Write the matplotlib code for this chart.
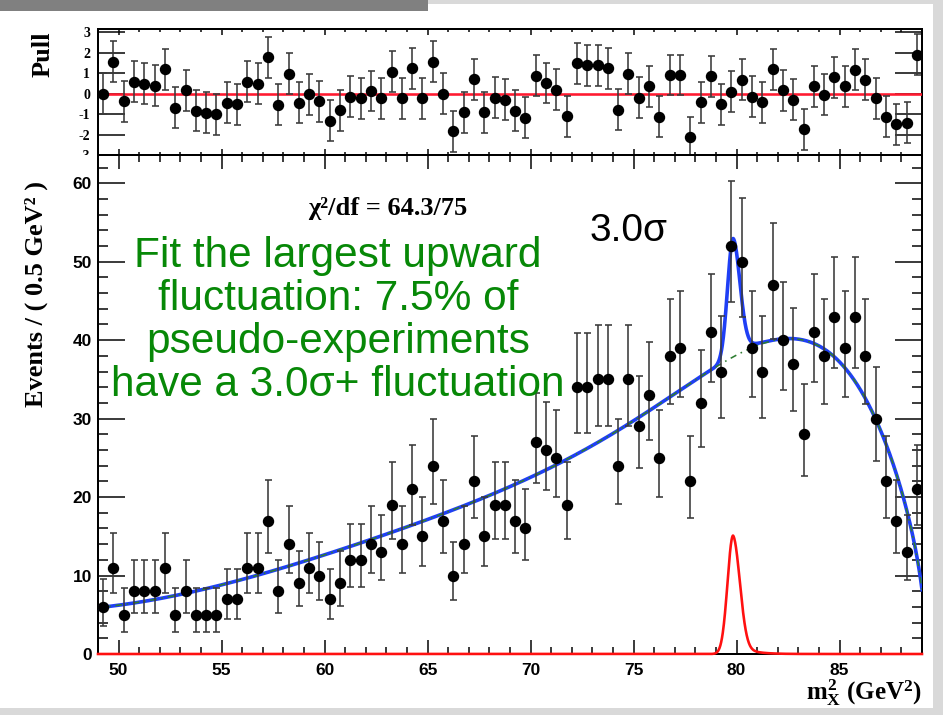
import math
import numpy as np
import matplotlib
matplotlib.use("Agg")
import matplotlib.pyplot as plt
from matplotlib.patches import Rectangle
from matplotlib.ticker import MultipleLocator, FixedLocator

plt.rcParams["mathtext.fontset"] = "custom"
plt.rcParams["mathtext.rm"] = "Liberation Serif:bold"
plt.rcParams["mathtext.it"] = "Liberation Serif:bold"
plt.rcParams["mathtext.bf"] = "Liberation Serif:bold"
plt.rcParams["axes.unicode_minus"] = False

# ---- histogram: m_X^2 in 0.5 GeV^2 bins from 49 to 89 ----
bin_edges = np.arange(49.0, 89.01, 0.5)
bin_centers = 0.5 * (bin_edges[:-1] + bin_edges[1:])
counts = [6, 11, 5, 8, 8, 8, 11, 5, 8, 5,
          5, 5, 7, 7, 11, 11, 17, 8, 14, 9,
          11, 10, 7, 9, 12, 12, 14, 13, 19, 14,
          21, 15, 24, 17, 10, 14, 22, 15, 19, 19,
          17, 16, 27, 26, 25, 19, 34, 34, 35, 35,
          24, 35, 29, 33, 25, 38, 39, 22, 32, 41,
          36, 52, 50, 39, 36, 47, 40, 37, 28, 41,
          38, 43, 39, 43, 38, 30, 22, 17, 13, 21]

# ---- pulls (data - fit) / error for each bin ----
pulls = [0.0, 1.55, -0.37, 0.58, 0.49, 0.39, 1.2, -0.7, 0.16, -0.84,
         -0.94, -1.0, -0.45, -0.52, 0.58, 0.49, 1.78, -0.55, 0.97, -0.45,
         -0.03, -0.37, -1.33, -0.81, -0.16, -0.23, 0.13, -0.23, 1.07, -0.23,
         1.23, -0.23, 1.55, 0.0, -1.83, -0.9, 0.71, -0.9, -0.21, -0.29,
         -0.83, -1.18, 0.87, 0.52, 0.19, -1.1, 1.49, 1.39, 1.39, 1.23,
         -0.78, 0.97, -0.21, 0.36, -1.13, 0.91, 0.91, -2.12, -0.42, 0.84,
         -0.52, 0.1, 0.68, -0.16, -0.42, 1.2, 0.16, -0.29, -1.75, 0.36,
         -0.05, 0.81, 0.36, 1.17, 0.68, -0.23, -1.13, -1.5, -1.42, 1.91]

# ---- background fit: sampled values of the fitted background shape ----
bkg_knot_x = [49.1, 53.8, 58.6, 63.7, 67.5, 69.2, 72.0, 74.0, 76.0, 78.7,
              79.4, 80.8, 82.2, 83.8, 85.4, 86.8, 87.4, 88.0, 88.7, 89.0]
bkg_knot_y = [5.8, 8.5, 11.1, 15.8, 19.4, 21.5, 25.7, 28.7, 31.7, 35.8,
              36.7, 38.7, 39.6, 39.4, 36.4, 30.5, 26.7, 20.3, 12.7, 7.8]
bkg_endpoint = 89.2

# ---- signal peak parameters ----
sig_mean = 79.83
sig_amp = 15.1
sig_sigma_left = 0.27
sig_sigma_right = 0.33
sig_tail_frac = 0.12
sig_tail_len = 0.6

pull_ticks = [-3, -2, -1, 0, 1, 2, 3]
chi2_text = "\u03c7\u00b2/df = 64.3/75"
note_lines = ["Fit the largest upward", "fluctuation: 7.5% of",
              "pseudo-experiments", "have a 3.0\u03c3+ fluctuation"]
signif_text = "3.0\u03c3"


def poisson_interval(n, cl=0.6827):
    alpha = 0.5 * (1.0 - cl)

    def cdf(k, mu):
        if k < 0:
            return 0.0
        if mu <= 0:
            return 1.0
        return sum(math.exp(-mu + j * math.log(mu) - math.lgamma(j + 1)) for j in range(k + 1))

    def solve(func, target, hi):
        lo = 0.0
        for _ in range(80):
            mid = 0.5 * (lo + hi)
            if func(mid) > target:
                lo = mid
            else:
                hi = mid
        return 0.5 * (lo + hi)

    up = solve(lambda m: cdf(n, m), alpha, n + 40.0)
    low = 0.0 if n == 0 else solve(lambda m: cdf(n - 1, m), 1.0 - alpha, n + 40.0)
    return n - low, up - n


err = np.array([poisson_interval(n) for n in counts]).T

# background model: exp(polynomial) times a threshold factor sqrt(x0 - x)
kx = np.array(bkg_knot_x)
ky = np.array(bkg_knot_y)
kt = (kx - 69.0) / 20.0
log_shape = np.log(ky / np.sqrt(bkg_endpoint - kx))
bkg_poly = np.polyfit(kt, log_shape, 5, w=np.sqrt(ky))


def background(x):
    t = (x - 69.0) / 20.0
    return np.exp(np.polyval(bkg_poly, t)) * np.sqrt(np.clip(bkg_endpoint - x, 0, None))


def signal(x):
    d = x - sig_mean
    left = np.exp(-0.5 * (d / sig_sigma_left) ** 2)
    right = (1 - sig_tail_frac) * np.exp(-0.5 * (d / sig_sigma_right) ** 2) + \
        sig_tail_frac * np.exp(-np.clip(d, 0, None) / sig_tail_len)
    return sig_amp * np.where(d < 0, left, right)


xs = np.linspace(49.0, 89.0, 3000)
bkg_curve = background(xs)
sig_curve = signal(xs)
tot_curve = bkg_curve + sig_curve

# ---- figure layout (pixel based) ----
W, H = 943, 715
fig = plt.figure(figsize=(W / 100, H / 100), dpi=100)
fig.patch.set_facecolor("#d9d9d9")


def px_rect(x0, y0, x1, y1):
    return [x0 / W, 1 - y1 / H, (x1 - x0) / W, (y1 - y0) / H]


fig.add_artist(Rectangle((0, 1 - 708 / H), 933 / W, 704 / H, transform=fig.transFigure,
                         facecolor="white", edgecolor="none", zorder=-2))
fig.add_artist(Rectangle((0, 1 - 11 / H), 428 / W, 11 / H, transform=fig.transFigure,
                         facecolor="#808080", edgecolor="none", zorder=-1))

ax_pull = fig.add_axes(px_rect(98, 29, 922, 155))
ax_main = fig.add_axes(px_rect(98, 155, 922, 654))
ax_pull.set_zorder(0)
ax_main.set_zorder(2)
# hide the lower part of the pull panel's "-3" label, as the lower pad does
fig.add_artist(Rectangle((0, 1 - 654 / H), 98 / W, (654 - 155) / H, transform=fig.transFigure,
                         facecolor="white", edgecolor="none", zorder=1))

sans_bold = dict(family="Liberation Sans", weight="bold")
serif_bold = dict(family="Liberation Serif", weight="bold")
pt = 72 / 100  # points per pixel

# ---- main panel ----
ax = ax_main
ax.set_xlim(49, 89)
ax.set_ylim(0, 63.6)
ax.plot(xs, sig_curve, color="#ff1010", lw=2.6 * pt, zorder=4, clip_on=False)
ax.plot(xs, tot_curve, color="#1f3ff5", lw=3.6 * pt, zorder=3)
ax.plot(xs, bkg_curve, color="#2f7d32", lw=1.6 * pt, ls=(0, (4, 3, 1, 3)), zorder=3.5)
ax.errorbar(bin_centers, counts, yerr=err, fmt="o", color="black", ms=10 * pt,
            ecolor="#3a3a3a", elinewidth=1.6 * pt, capsize=3.5 * pt, capthick=1.6 * pt, zorder=5)

ax.xaxis.set_major_locator(MultipleLocator(5))
ax.xaxis.set_minor_locator(MultipleLocator(1))
ax.yaxis.set_major_locator(MultipleLocator(10))
ax.yaxis.set_minor_locator(MultipleLocator(2))
ax.tick_params(axis="y", which="major", direction="in", length=27 * pt, width=1.5 * pt,
               left=True, right=True, pad=6 * pt)
ax.tick_params(axis="y", which="minor", direction="in", length=10 * pt, width=1.5 * pt,
               left=True, right=True)
ax.tick_params(axis="x", which="major", direction="in", length=14 * pt, width=1.5 * pt,
               top=True, bottom=True, pad=9 * pt)
ax.tick_params(axis="x", which="minor", direction="in", length=7 * pt, width=1.5 * pt,
               top=True, bottom=True)
for lab in ax.get_xticklabels() + ax.get_yticklabels():
    lab.set_fontproperties(dict(sans_bold, size=12.5))
for sp in ax.spines.values():
    sp.set_linewidth(2 * pt)

# ---- pull panel ----
ap = ax_pull
ap.set_xlim(49, 89)
ap.set_ylim(-3.0, 3.16)
ap.axhline(0, color="#ff1a30", lw=2.6 * pt, zorder=3)
ap.errorbar(bin_centers, pulls, yerr=1.0, fmt="o", color="black", ms=10 * pt,
            ecolor="#3a3a3a", elinewidth=1.6 * pt, capsize=3.5 * pt, capthick=1.6 * pt, zorder=5)
ap.yaxis.set_major_locator(FixedLocator(pull_ticks))
ap.xaxis.set_major_locator(MultipleLocator(5))
ap.xaxis.set_minor_locator(MultipleLocator(1))
ap.tick_params(axis="y", which="major", direction="in", length=27 * pt, width=1.5 * pt,
               left=True, right=True, pad=8 * pt)
ap.tick_params(axis="x", which="major", direction="in", length=6 * pt, width=1.5 * pt,
               top=True, bottom=True, labelbottom=False)
ap.tick_params(axis="x", which="minor", direction="in", length=3 * pt, width=1.5 * pt,
               top=True, bottom=True)
for lab in ap.get_yticklabels():
    lab.set_fontproperties(dict(serif_bold, size=10))
for sp in ap.spines.values():
    sp.set_linewidth(2 * pt)

# ---- axis titles and annotations ----
fig.text(43 / W, 1 - 54 / H, "Pull", rotation=90, ha="center", va="center",
         fontsize=19, **serif_bold)
fig.text(36 / W, 1 - 294 / H, "Events / ( 0.5 GeV\u00b2 )", rotation=90, ha="center",
         va="center", fontsize=19, **serif_bold)
fig.text(922 / W, 1 - 700 / H, r"$m^{2}_{X}$ (GeV$^{2}$)", ha="right", va="baseline",
         fontsize=18, **serif_bold)
fig.text(388 / W, 1 - 215 / H, chi2_text, ha="center", va="baseline", fontsize=19,
         **serif_bold)
for line, base in zip(note_lines, [267, 310, 353, 396]):
    fig.text(338 / W, 1 - base / H, line, ha="center", va="baseline", fontsize=30.5,
             family="Liberation Sans", color="#078807", zorder=10)
fig.text(629 / W, 1 - 241 / H, signif_text, ha="center", va="baseline", fontsize=28,
         family="Liberation Sans", color="black", zorder=10)

fig.savefig("out.png", dpi=100, facecolor=fig.get_facecolor())
